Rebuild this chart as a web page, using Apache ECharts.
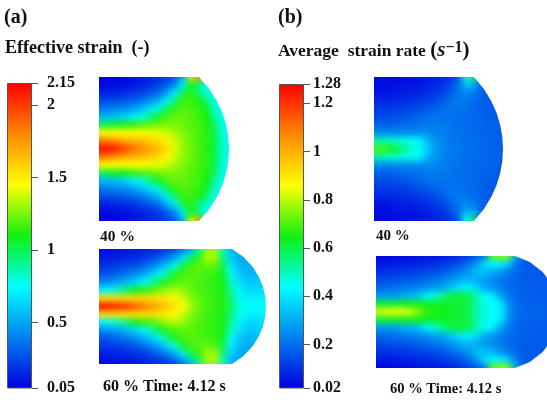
<!DOCTYPE html>
<html><head><meta charset="utf-8">
<style>
html,body{margin:0;padding:0;background:#fff;width:547px;height:400px;overflow:hidden}
#c{width:600px;height:400px}
canvas[data-zr-dom-id="zr_0"]{filter:blur(3px)}
</style>
<script src="https://cdn.jsdelivr.net/npm/echarts@6/dist/echarts.min.js"></script>
</head><body><div id="c"></div>
<script>
const palette=['#0000e0','#0080f0','#00ffff','#10f010','#ffff00','#ff8800','#ff0000'];
const strainTicks=[0.05,0.5,1,1.5,2,2.15];
const rateTicks=[0.02,0.2,0.4,0.6,0.8,1,1.2,1.28];
// half fields, edge row to centre row; the lower half mirrors them
const strain40=[
[.05,.05,.06,.08,.1,.12,.14,.17,.22,.3,.5,1.4,1.8,.8,.8,.8,.8],
[.07,.08,.09,.1,.12,.15,.18,.22,.3,.42,.7,1.1,.95,.75,.72,.7,.7],
[.13,.14,.15,.17,.2,.23,.28,.35,.5,.7,1.0,1.14,.92,.8,.72,.7,.7],
[.25,.26,.28,.3,.33,.38,.45,.55,.72,.95,1.16,1.16,1.1,.97,.78,.72,.7],
[.38,.4,.42,.45,.5,.58,.68,.8,1.0,1.16,1.2,1.18,1.15,1.06,.82,.75,.72],
[.55,.57,.6,.65,.72,.8,.95,1.08,1.18,1.22,1.22,1.2,1.17,1.1,.9,.76,.72],
[1.0,1.05,1.08,1.12,1.15,1.18,1.22,1.24,1.26,1.25,1.23,1.2,1.17,1.12,.98,.78,.72],
[1.45,1.45,1.45,1.45,1.45,1.45,1.42,1.42,1.38,1.32,1.27,1.22,1.18,1.14,1.0,.8,.75],
[1.85,1.8,1.75,1.7,1.68,1.65,1.6,1.55,1.48,1.38,1.29,1.23,1.18,1.14,1.02,.82,.76],
[2.12,2.12,2.05,1.95,1.85,1.78,1.72,1.65,1.55,1.4,1.3,1.24,1.18,1.12,1.0,.82,.76]];
const strain60=[
[.08,.08,.09,.1,.11,.13,.15,.18,.22,.28,.38,.55,.9,1.28,1.32,.85,.55,.5,.5,.5,.5],
[.12,.13,.14,.15,.17,.2,.24,.3,.38,.5,.7,1.0,1.14,1.32,1.32,.95,.62,.52,.5,.5,.55],
[.18,.2,.22,.25,.28,.33,.4,.5,.63,.78,1.05,1.17,1.2,1.22,1.2,1.02,.7,.56,.52,.52,.55],
[.28,.3,.33,.38,.43,.5,.6,.72,.9,1.12,1.18,1.2,1.19,1.17,1.15,1.07,.78,.6,.55,.55,.58],
[.42,.45,.5,.56,.63,.72,.85,1.02,1.14,1.18,1.21,1.2,1.18,1.16,1.14,1.1,.85,.68,.6,.6,.62],
[.72,.78,.86,.96,1.08,1.14,1.18,1.24,1.3,1.34,1.3,1.23,1.19,1.16,1.14,1.1,.9,.72,.66,.64,.66],
[1.55,1.55,1.55,1.55,1.55,1.55,1.55,1.52,1.5,1.46,1.38,1.27,1.21,1.17,1.14,1.12,.95,.78,.72,.7,.72],
[2.14,2.12,2.08,2.02,1.95,1.85,1.78,1.7,1.62,1.55,1.45,1.32,1.23,1.18,1.15,1.12,.98,.8,.75,.74,.75]];
const rate40=[
[.03,.03,.04,.04,.05,.05,.06,.07,.08,.1,.15,.45,.6,.2,.17,.17,.17],
[.04,.04,.05,.05,.05,.06,.07,.08,.1,.13,.2,.33,.3,.18,.17,.17,.17],
[.05,.05,.06,.07,.07,.08,.09,.11,.13,.17,.21,.25,.22,.18,.17,.17,.17],
[.08,.08,.09,.09,.1,.11,.12,.14,.17,.2,.22,.22,.2,.18,.17,.17,.17],
[.11,.11,.12,.12,.13,.15,.16,.18,.2,.21,.21,.2,.19,.18,.17,.17,.17],
[.14,.14,.15,.16,.17,.18,.2,.21,.21,.21,.2,.2,.19,.18,.17,.17,.17],
[.18,.18,.18,.19,.2,.21,.22,.22,.22,.21,.2,.2,.19,.18,.18,.17,.17],
[.25,.25,.25,.25,.25,.25,.25,.24,.23,.22,.21,.2,.19,.19,.18,.17,.17],
[.52,.5,.48,.47,.45,.44,.35,.27,.24,.22,.21,.2,.2,.19,.18,.18,.17],
[.7,.68,.64,.56,.5,.46,.38,.28,.25,.23,.22,.21,.2,.19,.18,.18,.17]];
const rate60=[
[.03,.03,.04,.04,.04,.05,.05,.06,.07,.08,.1,.12,.15,.2,.72,.75,.75,.3,.17,.17,.17,.17,.17],
[.06,.06,.07,.07,.08,.08,.09,.1,.11,.13,.15,.2,.27,.38,.42,.42,.36,.22,.17,.17,.17,.17,.17],
[.1,.1,.11,.11,.12,.13,.14,.15,.17,.2,.23,.27,.33,.33,.32,.27,.22,.19,.17,.17,.17,.17,.17],
[.14,.15,.15,.16,.17,.18,.2,.21,.24,.27,.3,.32,.3,.28,.25,.22,.2,.18,.17,.17,.17,.17,.17],
[.19,.2,.21,.22,.23,.24,.26,.28,.3,.35,.4,.42,.38,.3,.27,.23,.2,.18,.18,.17,.17,.17,.17],
[.27,.27,.28,.3,.32,.36,.42,.48,.55,.6,.62,.6,.52,.44,.42,.3,.22,.19,.18,.18,.17,.17,.17],
[.62,.62,.62,.63,.63,.64,.63,.63,.63,.62,.62,.6,.52,.46,.44,.42,.27,.2,.18,.18,.18,.17,.17],
[.82,.84,.85,.84,.82,.74,.68,.66,.64,.63,.62,.6,.52,.47,.45,.43,.28,.2,.19,.18,.18,.18,.17]];
// outer profile of each workpiece: [distance from left edge, offset from mid-height]
const outline40a=[[130,0],[129.3,12],[127.1,24],[123.4,36],[117.9,48],[110.3,60],[100,72]];
const outline60a=[[167,0],[166.2,10],[163.9,20],[159.7,30],[153.4,40],[143.9,50],[133,57.5]];
const outline40b=[[129,0],[128.3,12],[126.2,24],[122.6,36],[117.2,48],[109.9,60],[100,72]];
const outline60b=[[182.7,0],[181.8,10],[179.1,20],[174.3,30],[166.6,40],[153.8,50],[139,56]];

const serif='"Liberation Serif","Times New Roman",serif';
const cell=8;
const panels=[
 {field:strain40,outline:outline40a,x:99,y:77,h:72},
 {field:strain60,outline:outline60a,x:99,y:249,h:57.5},
 {field:rate40,outline:outline40b,x:374,y:77,h:72},
 {field:rate60,outline:outline60b,x:376,y:256,h:56}];
const grid=[],xAxis=[],yAxis=[],series=[];
function addAxes(g,x,y){grid.push(g);xAxis.push(Object.assign({gridIndex:grid.length-1,show:false,zlevel:1},x));yAxis.push(Object.assign({gridIndex:grid.length-1,show:false,zlevel:1},y));return grid.length-1;}
panels.forEach(p=>{
  const n=p.field.length, m=p.field[0].length;
  const rows=p.field.concat(p.field.slice(0,n-1).reverse());
  const padded=[rows[0]].concat(rows,[rows[rows.length-1]]).map(r=>[r[0]].concat(r,[r[m-1]]));
  const midY=p.y+p.h, top=midY-(n-1)*cell-cell/2-cell;
  const i=addAxes({left:p.x-cell,top:top,width:(m+2)*cell,height:padded.length*cell},
    {type:'category',data:padded[0].map((_,k)=>k)},
    {type:'category',inverse:true,data:padded.map((_,k)=>k)});
  const data=[];
  padded.forEach((r,yi)=>r.forEach((v,xi)=>data.push([xi,yi,v])));
  series.push({type:'heatmap',xAxisIndex:i,yAxisIndex:i,data:data,zlevel:0,silent:true,progressive:0,animation:false,itemStyle:{borderWidth:0}});
});
panels.forEach(p=>{
  const W=p.outline[0][0], mg=24, ml=22;
  const i=addAxes({left:p.x-ml,top:p.y-mg,width:W+mg+ml,height:2*p.h+2*mg},
    {type:'value',min:-ml,max:W+mg},{type:'value',min:-p.h-mg,max:p.h+mg});
  const o=p.outline;
  const inner=[[0,p.h]].concat(o.slice().reverse(),o.slice(1).map(q=>[q[0],-q[1]]),[[0,-p.h],[0,p.h]]);
  const outer=[[-ml,p.h+mg],[-ml,-p.h-mg],[W+mg,-p.h-mg],[W+mg,p.h+mg],[-ml,p.h+mg]];
  series.push({type:'custom',xAxisIndex:i,yAxisIndex:i,zlevel:1,z:1,silent:true,clip:false,animation:false,data:[[0,0]],
    renderItem:(params,api)=>({type:'polygon',shape:{points:outer.concat(inner,[outer[0]]).map(q=>api.coord(q))},style:{fill:'#fff'}})});
});
function gradient(){return {type:'linear',x:0,y:1,x2:0,y2:0,colorStops:palette.map((c,k)=>({offset:k/(palette.length-1),color:c}))};}
function colorbar(left,top,height,ticks,margin){
  const lo=ticks[0],hi=ticks[ticks.length-1];
  const i=addAxes({left:left,top:top,width:25,height:height},{type:'category',data:['']},
   {type:'value',show:true,z:10,position:'right',min:lo,max:hi,splitLine:{show:false},axisLine:{show:false},
    axisTick:{show:true,length:6,lineStyle:{color:'#555'},customValues:ticks},
    axisLabel:{show:true,margin:margin,customValues:ticks,hideOverlap:false,color:'#111',fontFamily:serif,fontWeight:'bold',fontSize:16,formatter:v=>String(v)}});
  series.push({type:'bar',xAxisIndex:i,yAxisIndex:i,zlevel:1,z:5,silent:true,animation:false,barWidth:'100%',data:[hi],
    itemStyle:{color:gradient(),borderColor:'#555',borderWidth:1}});
}
colorbar(7,83,305,strainTicks,15);
colorbar(279,84,304,rateTicks,9);
function t(text,left,top,size,extra){return Object.assign({zlevel:1,z:20,text:text,left:left,top:top,padding:0,textStyle:{fontFamily:serif,fontWeight:'bold',fontSize:size,color:'#111'}},extra||{});}
const rateTitle=t('{b|Average  strain rate }{p|(}{i|s}{s|\u22121}{p|)}',278,40,17);
rateTitle.textStyle.rich={b:{fontFamily:serif,fontWeight:'bold',fontSize:17.5,color:'#111'},p:{fontFamily:serif,fontWeight:'bold',fontSize:21,color:'#111'},i:{fontFamily:serif,fontWeight:'bold',fontStyle:'italic',fontSize:21,color:'#111'},s:{fontFamily:serif,fontWeight:'bold',fontSize:16,color:'#111',verticalAlign:'top',lineHeight:22}};
const option={
 backgroundColor:'transparent',animation:false,
 title:[t('(a)',4,8,20),t('Effective strain  (-)',5,39,18),t('(b)',278,8,20),rateTitle,
  t('40 %',100,229,15.5),t('60 % Time: 4.12 s',103,379,16),t('40 %',376,229,15),t('60 % Time: 4.12 s',390,382,14.5)],
 grid,xAxis,yAxis,series,
 visualMap:[
  {show:false,type:'continuous',min:strainTicks[0],max:strainTicks[strainTicks.length-1],seriesIndex:[0,1],dimension:2,inRange:{color:palette}},
  {show:false,type:'continuous',min:rateTicks[0],max:rateTicks[rateTicks.length-1],seriesIndex:[2,3],dimension:2,inRange:{color:palette}}]
};
echarts.init(document.getElementById('c')).setOption(option);
</script></body></html>
